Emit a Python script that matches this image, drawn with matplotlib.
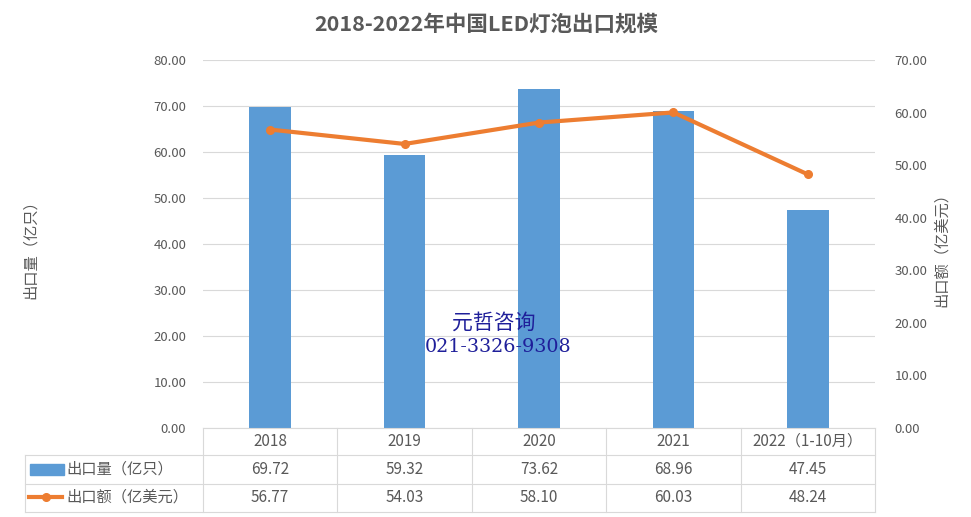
import numpy as np
import matplotlib
matplotlib.use('Agg')
import matplotlib.pyplot as plt
from matplotlib.lines import Line2D
from matplotlib.patches import Rectangle

plt.rcParams['font.family'] = ['Noto Sans CJK SC', 'DejaVu Sans']

# 数据
years = ['2018', '2019', '2020', '2021', '2022（1-10月）']
qty = [69.72, 59.32, 73.62, 68.96, 47.45]      # 出口量（亿只）
amount = [56.77, 54.03, 58.10, 60.03, 48.24]   # 出口额（亿美元）
qty_name = '出口量（亿只）'
amount_name = '出口额（亿美元）'
title = '2018-2022年中国LED灯泡出口规模'

W, H = 971, 517
BLUE = '#5B9BD5'
ORANGE = '#ED7D31'
GRAY = '#595959'
GRID = '#D9D9D9'

def fx(x):
    return x / W

def fy(y):
    return 1 - y / H

fig = plt.figure(figsize=(W / 100, H / 100), dpi=100)

# 主图区域（像素）
L, R, T, B = 203, 875, 60, 428
ax = fig.add_axes([fx(L), fy(B), fx(R) - fx(L), fy(T) - fy(B)])
x = np.arange(len(years))
ax.bar(x, qty, width=0.31, color=BLUE, zorder=2)
ax.set_xlim(-0.5, len(years) - 0.5)
ax.set_ylim(0, 80)
ax.set_yticks(np.arange(0, 81, 10))
ax.set_yticklabels(['%.2f' % v for v in np.arange(0, 81, 10)])
ax.set_xticks([])
ax.grid(axis='y', color=GRID, lw=0.8, zorder=0)
ax.tick_params(axis='y', length=0, labelsize=9.5, labelcolor=GRAY, pad=12)
for s in ['top', 'right', 'left']:
    ax.spines[s].set_visible(False)
ax.spines['bottom'].set_color(GRID)

ax2 = ax.twinx()
ax2.plot(x, amount, color=ORANGE, lw=3, marker='o', ms=5.5, zorder=3)
ax2.set_ylim(0, 70)
ax2.set_yticks(np.arange(0, 71, 10))
ax2.set_yticklabels(['%.2f' % v for v in np.arange(0, 71, 10)])
ax2.tick_params(axis='y', length=0, labelsize=9.5, labelcolor=GRAY, pad=14)
for s in ['top', 'right', 'left', 'bottom']:
    ax2.spines[s].set_visible(False)

# 标题和坐标轴标题
fig.text(fx(486), fy(24), title, ha='center', va='center', fontsize=15.5,
         fontweight='bold', color=GRAY)
fig.text(fx(30), fy(246), qty_name, rotation=90, ha='center', va='center',
         fontsize=11, color=GRAY)
fig.text(fx(941), fy(246), amount_name, rotation=90, ha='center', va='center',
         fontsize=11, color=GRAY)

# 水印
fig.text(fx(494), fy(323), '元哲咨询', ha='center', va='center', fontsize=15,
         color='#1F1F9A')
fig.text(fx(498), fy(347), '021-3326-9308', ha='center', va='center', fontsize=13.8,
         color='#1F1F9A', family=['DejaVu Serif'])

# 数据表
col_w = (R - L) / len(years)
cols = [L + i * col_w for i in range(len(years) + 1)]
rows = [428, 455, 484, 512]
lk = dict(color=GRID, lw=0.8, transform=fig.transFigure)
for c in cols:
    fig.add_artist(Line2D([fx(c), fx(c)], [fy(rows[0]), fy(rows[3])], **lk))
fig.add_artist(Line2D([fx(25), fx(25)], [fy(rows[1]), fy(rows[3])], **lk))
for r in rows[1:]:
    fig.add_artist(Line2D([fx(25), fx(R)], [fy(r), fy(r)], **lk))

tk = dict(ha='center', va='center', fontsize=11, color=GRAY)
for i, yr in enumerate(years):
    cx = (cols[i] + cols[i + 1]) / 2
    fig.text(fx(cx), fy((rows[0] + rows[1]) / 2), yr, **tk)
    fig.text(fx(cx), fy((rows[1] + rows[2]) / 2), '%.2f' % qty[i], **tk)
    fig.text(fx(cx), fy((rows[2] + rows[3]) / 2), '%.2f' % amount[i], **tk)

# 图例键
fig.add_artist(Rectangle((fx(30), fy(475)), fx(64) - fx(30), fy(464) - fy(475),
                         color=BLUE, transform=fig.transFigure))
fig.add_artist(Line2D([fx(29), fx(62)], [fy(497), fy(497)], color=ORANGE, lw=3,
                      transform=fig.transFigure))
fig.add_artist(Line2D([fx(46)], [fy(497)], color=ORANGE, marker='o', ms=5.5,
                      transform=fig.transFigure))
fig.text(fx(66), fy(469), qty_name, ha='left', va='center', fontsize=11, color=GRAY)
fig.text(fx(66), fy(497), amount_name, ha='left', va='center', fontsize=11, color=GRAY)

fig.savefig('out.png', dpi=100)
